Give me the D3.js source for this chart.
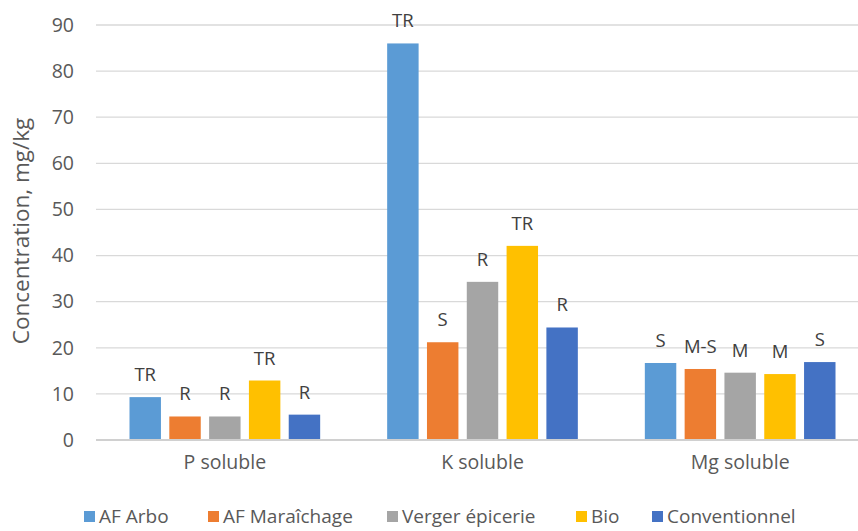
<!DOCTYPE html>
<html>
<head>
<meta charset="utf-8">
<script src="https://cdn.jsdelivr.net/npm/d3@7"></script>
<style>
  body { margin: 0; background: #fff; }
  svg { display: block; font-family: 'Open Sans', sans-serif; }
</style>
</head>
<body>
<svg id="chart" width="858" height="531"></svg>
<script>
var categories = ['P soluble', 'K soluble', 'Mg soluble'];
var series = ['AF Arbo', 'AF Maraîchage', 'Verger épicerie', 'Bio', 'Conventionnel'];
var colors = ['#5B9BD5', '#ED7D31', '#A5A5A5', '#FFC000', '#4472C4'];
// values[series][category]
var values = [
  [9.3, 86.0, 16.7],
  [5.1, 21.2, 15.4],
  [5.1, 34.3, 14.6],
  [12.9, 42.1, 14.3],
  [5.5, 24.4, 16.9]
];
var labels = [
  ['TR', 'TR', 'S'],
  ['R', 'S', 'M-S'],
  ['R', 'R', 'M'],
  ['TR', 'TR', 'M'],
  ['R', 'R', 'S']
];
var yTicks = [0, 10, 20, 30, 40, 50, 60, 70, 80, 90];
var legendX = [84, 208, 387, 576, 652];

var svg = d3.select('#chart');
var textColor = '#595959';

var x = d3.scaleBand()
  .domain(categories)
  .range([96, 869])
  .paddingInner(0.26)
  .paddingOuter(0.13);

var xInner = d3.scaleBand()
  .domain(series)
  .range([0, x.bandwidth()])
  .paddingInner(0.21);

var y = d3.scaleLinear()
  .domain([0, 90])
  .range([440, 25]);

// gridlines
svg.append('g')
  .selectAll('line')
  .data(yTicks.filter(function(t) { return t > 0; }))
  .enter()
    .append('line')
      .attr('x1', 96).attr('x2', 869)
      .attr('y1', function(t) { return y(t); })
      .attr('y2', function(t) { return y(t); })
      .attr('stroke', '#d9d9d9')
      .attr('stroke-width', 1.3);

// y axis labels
var yAxis = svg.append('g')
  .attr('transform', 'translate(96,0)')
  .call(d3.axisLeft(y).tickValues(yTicks).tickSize(0).tickPadding(22));
yAxis.select('.domain').remove();
yAxis.selectAll('text')
  .attr('fill', textColor)
  .style('font-size', '19.5px')
  .style('font-family', "'Open Sans', sans-serif");

// bars
var groups = svg.append('g')
  .selectAll('g.series')
  .data(series)
  .enter()
    .append('g')
      .attr('class', 'series')
      .attr('fill', function(s, i) { return colors[i]; });

function rows(s, i) {
  return categories.map(function(c, j) {
    return { cat: c, series: s, value: values[i][j], label: labels[i][j] };
  });
}

groups.selectAll('rect')
  .data(rows)
  .enter()
    .append('rect')
      .attr('x', function(d) { return x(d.cat) + xInner(d.series); })
      .attr('y', function(d) { return y(d.value); })
      .attr('width', xInner.bandwidth())
      .attr('height', function(d) { return y(0) - y(d.value); });

// data labels
groups.selectAll('text')
  .data(rows)
  .enter()
    .append('text')
      .attr('x', function(d) { return x(d.cat) + xInner(d.series) + xInner.bandwidth() / 2; })
      .attr('y', function(d) { return y(d.value) - 16; })
      .attr('text-anchor', 'middle')
      .attr('fill', '#404040')
      .style('font-size', '18.5px')
      .text(function(d) { return d.label; });

// x axis baseline
svg.append('line')
  .attr('x1', 96).attr('x2', 869)
  .attr('y1', y(0)).attr('y2', y(0))
  .attr('stroke', '#d0d0d0')
  .attr('stroke-width', 2);

// category labels
var xAxis = svg.append('g')
  .attr('transform', 'translate(0,' + y(0) + ')')
  .call(d3.axisBottom(x).tickSize(0).tickPadding(15));
xAxis.select('.domain').remove();
xAxis.selectAll('text')
  .attr('fill', textColor)
  .style('font-size', '19.5px')
  .style('font-family', "'Open Sans', sans-serif");

// axis title
svg.append('text')
  .attr('transform', 'translate(29,231) rotate(-90)')
  .attr('text-anchor', 'middle')
  .attr('fill', textColor)
  .style('font-size', '22.5px')
  .text('Concentration, mg/kg');

// legend
var legend = svg.append('g')
  .selectAll('g')
  .data(series)
  .enter()
    .append('g')
      .attr('transform', function(s, i) { return 'translate(' + legendX[i] + ',516)'; });

legend.append('rect')
  .attr('x', 0).attr('y', -5)
  .attr('width', 11).attr('height', 11)
  .attr('fill', function(s, i) { return colors[i]; });

legend.append('text')
  .attr('x', 15)
  .attr('dy', '0.35em')
  .attr('fill', textColor)
  .style('font-size', '19px')
  .text(function(s) { return s; });
</script>
</body>
</html>
